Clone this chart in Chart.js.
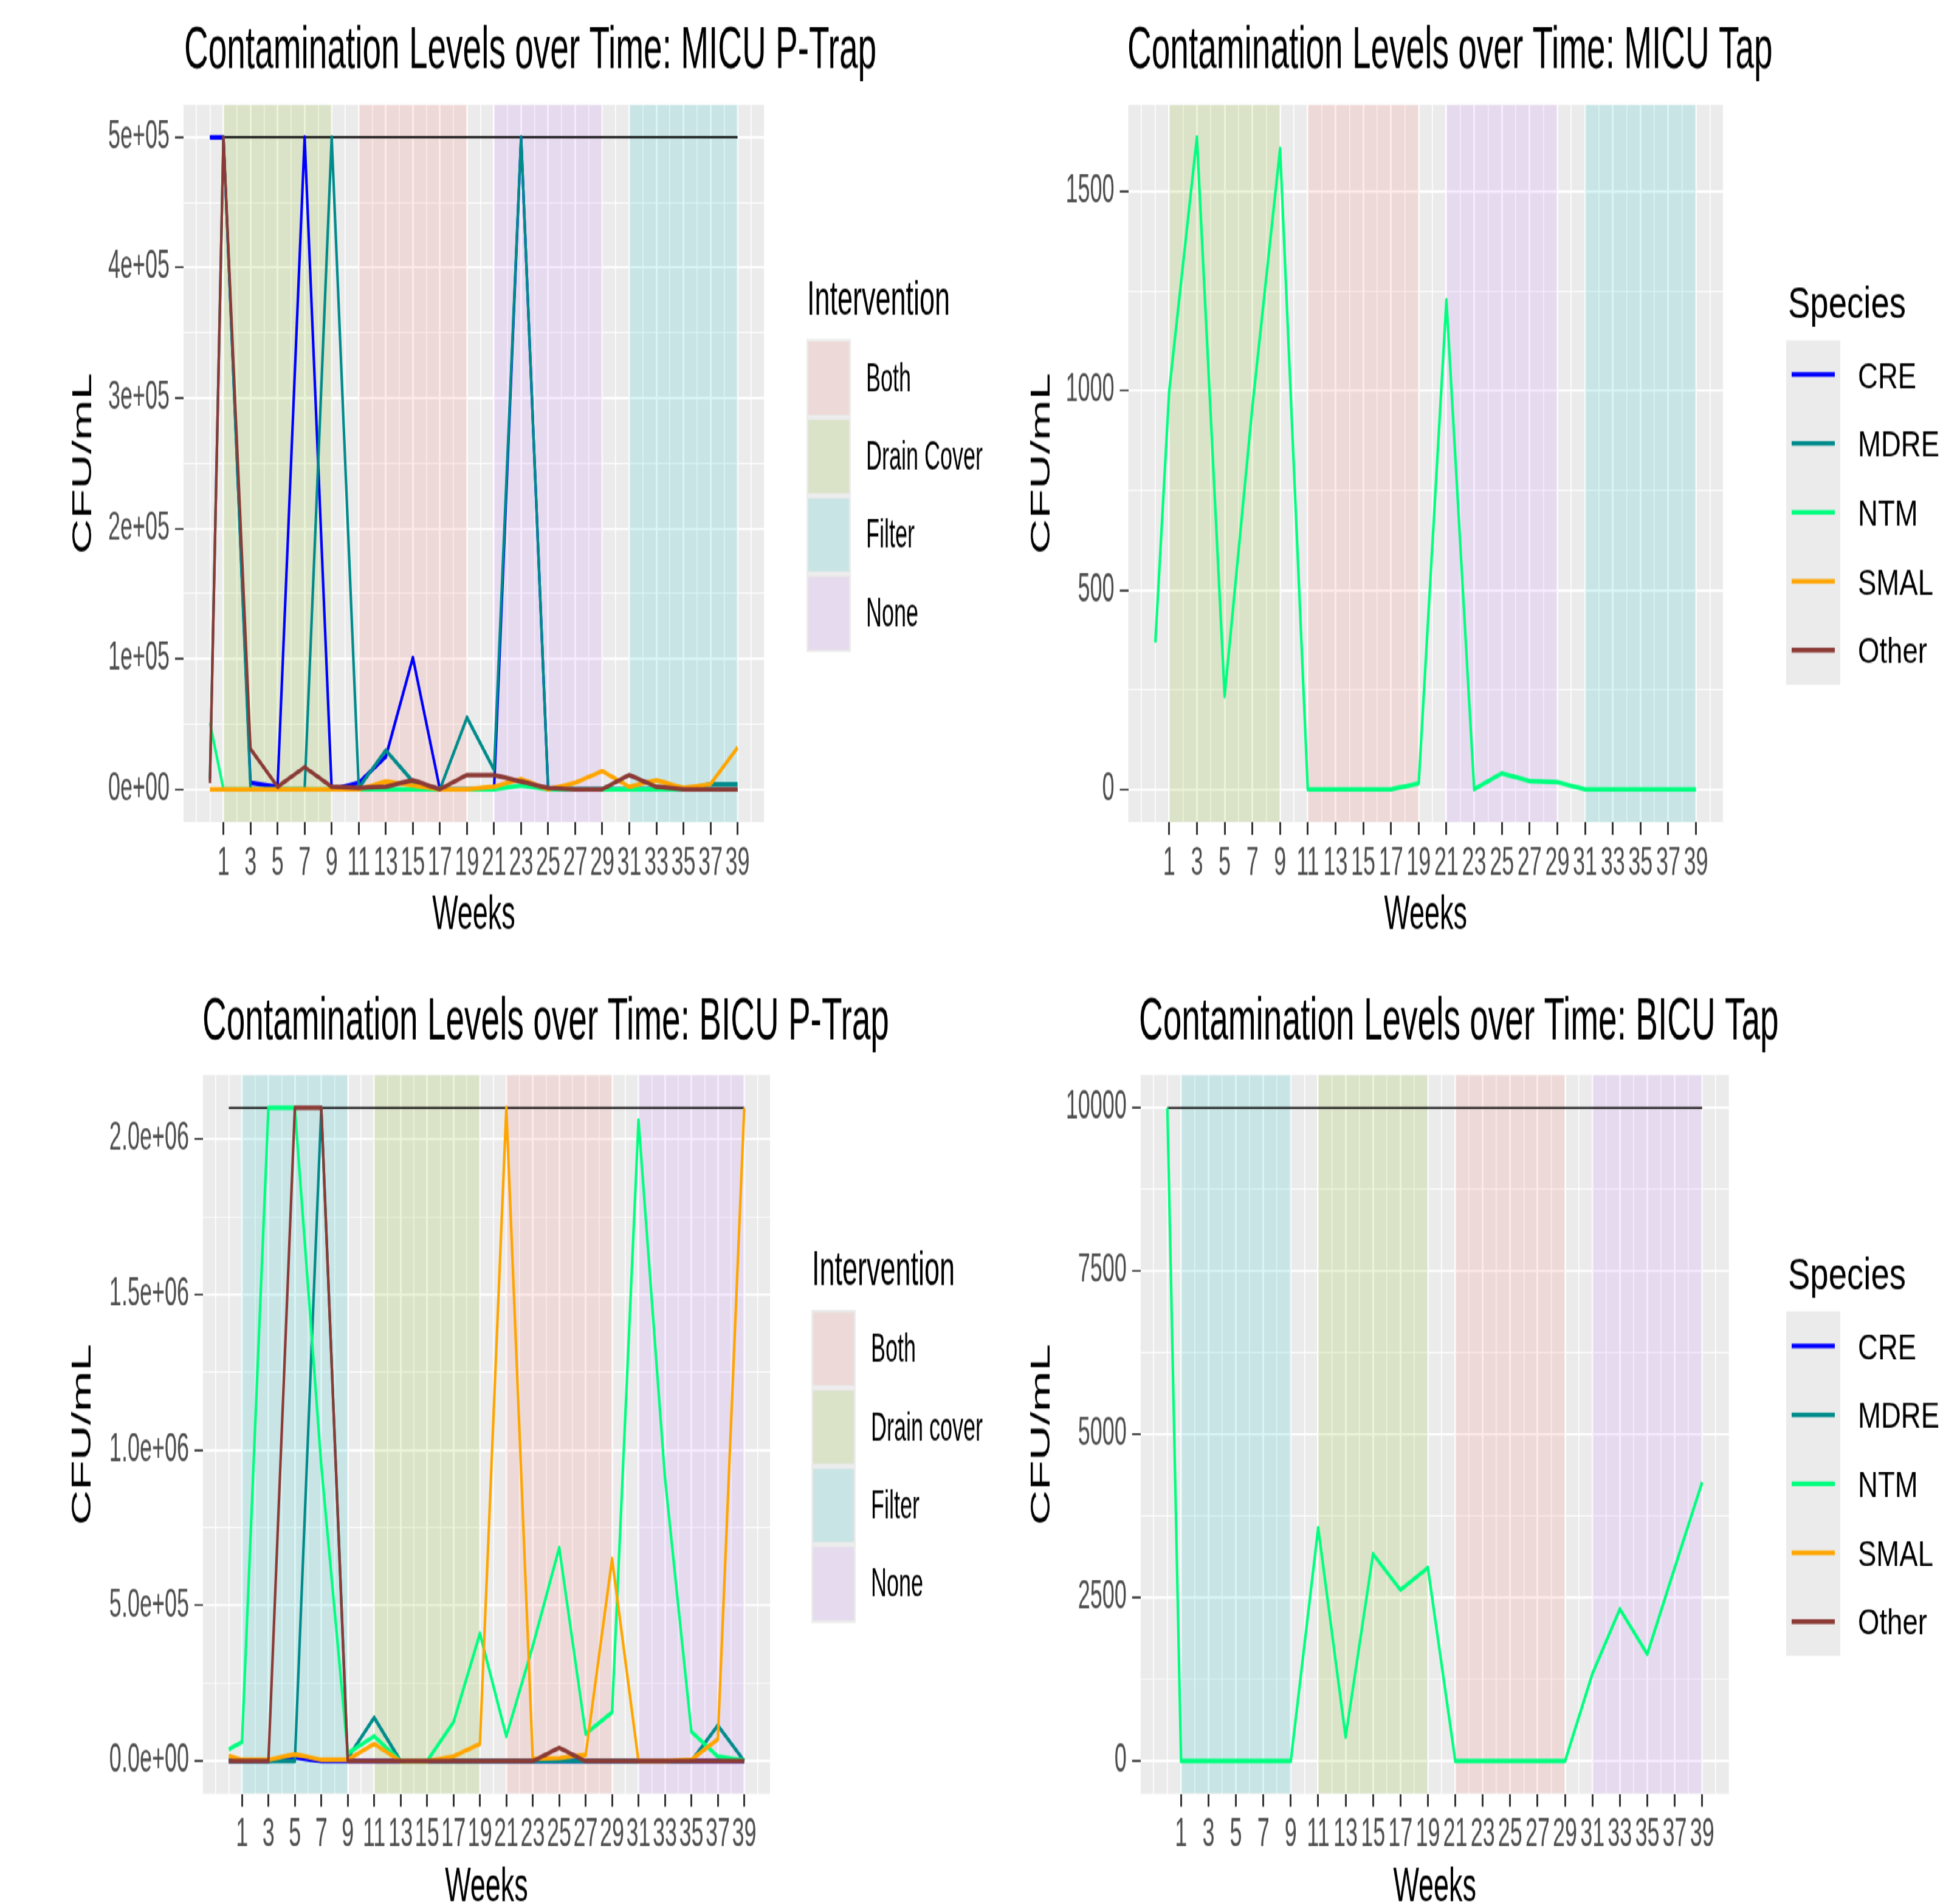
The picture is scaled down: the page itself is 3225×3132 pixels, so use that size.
<!DOCTYPE html>
<html lang="en">
<head>
<meta charset="UTF-8">
<title>Contamination Levels over Time</title>
<script src="https://cdn.jsdelivr.net/npm/chart.js"></script>
<style>
  html, body { margin: 0; padding: 0; background: #ffffff; overflow: hidden; }
  /* the reference is stretched vertically, so draw flat and stretch the whole sheet */
  #wrap { position: absolute; left: 0; top: 0; width: 3225px; height: 1780px;
          transform: scaleY(1.78); transform-origin: 0 0; }
  #wrap canvas { position: absolute; }
</style>
</head>
<body>
<div id="wrap">
  <canvas id="micuTrap" width="1640" height="880" style="left:0px;top:0px"></canvas>
  <canvas id="micuTap" width="1613" height="880" style="left:1612px;top:0px"></canvas>
  <canvas id="bicuTrap" width="1640" height="900" style="left:0px;top:880px"></canvas>
  <canvas id="bicuTap" width="1613" height="900" style="left:1612px;top:880px"></canvas>
</div>

<script>
// ---- data ----
const sampleWeeks = [0, 1, 3, 5, 7, 9, 11, 13, 15, 17, 19, 21, 23, 25, 27, 29, 31, 33, 35, 37, 39];
const weekLabels  = [1, 3, 5, 7, 9, 11, 13, 15, 17, 19, 21, 23, 25, 27, 29, 31, 33, 35, 37, 39];
const speciesNames = ['CRE', 'MDRE', 'NTM', 'SMAL', 'Other'];

// MICU P-Trap
const micuTrapCRE   = [500000, 500000, 5000, 2000, 500000, 0, 5000, 25000, 101000, 0, 0, 0, 500000, 0, 0, 0, 0, 0, 0, 0, 0];
const micuTrapMDRE  = [8000, 500000, 0, 0, 0, 500000, 1000, 30000, 6000, 0, 55000, 15000, 500000, 0, 0, 0, 0, 0, 0, 4000, 4000];
const micuTrapNTM   = [51000, 0, 0, 0, 0, 0, 0, 0, 0, 0, 0, 0, 3000, 0, 0, 0, 0, 0, 0, 0, 0];
const micuTrapSMAL  = [0, 0, 0, 0, 0, 0, 0, 6000, 3000, 0, 0, 2000, 8000, 0, 5000, 14000, 2000, 7000, 1000, 4000, 32000];
const micuTrapOther = [5000, 500000, 31000, 2000, 17000, 2000, 1000, 2000, 7000, 0, 11000, 11000, 6000, 1000, 0, 0, 11000, 2000, 0, 0, 0];

// MICU Tap
const micuTapNTM = [368, 1000, 1637, 234, 960, 1608, 0, 0, 0, 0, 15, 1228, 0, 40, 21, 18, 0, 0, 0, 0, 0];

// BICU P-Trap
const bicuTrapCRE   = [0, 0, 0, 12000, 0, 0, 0, 0, 0, 0, 0, 0, 0, 0, 0, 0, 0, 0, 0, 0, 0];
const bicuTrapMDRE  = [0, 0, 0, 0, 2100000, 10000, 140000, 0, 0, 0, 0, 0, 0, 0, 0, 0, 0, 0, 0, 115000, 0];
const bicuTrapNTM   = [38000, 61000, 2100000, 2100000, 950000, 25000, 80000, 0, 0, 125000, 410000, 80000, 370000, 686000, 88000, 157000, 2060000, 912000, 95000, 15000, 3000];
const bicuTrapSMAL  = [17000, 5000, 5000, 22000, 5000, 5000, 55000, 0, 0, 15000, 55000, 2100000, 8000, 10000, 20000, 650000, 0, 0, 5000, 70000, 2100000];
const bicuTrapOther = [0, 0, 0, 2100000, 2100000, 0, 0, 0, 0, 0, 0, 0, 0, 43000, 0, 0, 0, 0, 0, 0, 0];

// BICU Tap
const bicuTapNTM = [10000, 0, 0, 0, 0, 0, 3570, 370, 3170, 2620, 2960, 0, 0, 0, 0, 0, 1340, 2330, 1640, 2960, 4270];

// detection cap lines
const capWeeks = [0, 39];
const micuTrapCap = [500000, 500000];
const bicuTrapCap = [2100000, 2100000];
const bicuTapCap = [10000, 10000];

// intervention periods
const bandStart = [1, 11, 21, 31];
const bandEnd   = [9, 19, 29, 39];
const micuBands = ['Drain Cover', 'Both', 'None', 'Filter'];
const bicuBands = ['Filter', 'Drain cover', 'Both', 'None'];

// y axis breaks
const micuTrapMajor = [0, 100000, 200000, 300000, 400000, 500000];
const micuTrapTickLabels = ['0e+00', '1e+05', '2e+05', '3e+05', '4e+05', '5e+05'];
const micuTrapMinor = [50000, 150000, 250000, 350000, 450000];
const micuTapMajor = [0, 500, 1000, 1500];
const micuTapTickLabels = ['0', '500', '1000', '1500'];
const micuTapMinor = [250, 750, 1250];
const bicuTrapMajor = [0, 500000, 1000000, 1500000, 2000000];
const bicuTrapTickLabels = ['0.0e+00', '5.0e+05', '1.0e+06', '1.5e+06', '2.0e+06'];
const bicuTrapMinor = [250000, 750000, 1250000, 1750000];
const bicuTapMajor = [0, 2500, 5000, 7500, 10000];
const bicuTapTickLabels = ['0', '2500', '5000', '7500', '10000'];
const bicuTapMinor = [1250, 3750, 6250, 8750];

// ---- styling ----
const FONT = '"Liberation Sans", Arial, Helvetica, sans-serif';
Chart.defaults.font.family = FONT;

const speciesColors = { CRE: '#0000FF', MDRE: '#008B8B', NTM: '#00FF7F', SMAL: '#FFA500', Other: '#8B3A35' };
const bandFill = {
  'Both': 'rgba(248,118,109,0.15)',
  'Drain Cover': 'rgba(124,174,0,0.15)',
  'Drain cover': 'rgba(124,174,0,0.15)',
  'Filter': 'rgba(0,191,196,0.15)',
  'None': 'rgba(199,124,255,0.15)'
};
const X_AXIS_H = 120;

// grid at every week, ggplot style (majors on the labelled weeks)
const gridWeeks = [];
for (let w = -1; w <= 40; w++) gridWeeks.push(w);

function expandRange(values) {
  const hi = Math.max(...values), lo = 0;
  const pad = (hi - lo) * 0.05;
  return [lo - pad, hi + pad];
}

function stretchedText(ctx, text, x, y, sx) {
  ctx.save();
  ctx.translate(x, y);
  ctx.scale(sx, 1);
  ctx.fillText(text, 0, 0);
  ctx.restore();
}

function makePanel(p) {
  const canvas = document.getElementById(p.id);
  const a = p.area;

  const datasets = [];
  if (p.cap) {
    datasets.push({
      label: 'cap',
      data: capWeeks.map((w, i) => ({ x: w, y: p.cap[i] })),
      borderColor: '#000000', borderWidth: 1.8, order: 10
    });
  }
  p.series.forEach(s => {
    datasets.push({
      label: s.name,
      data: sampleWeeks.map((w, i) => ({ x: w, y: s.values[i] })),
      borderColor: speciesColors[s.name],
      borderWidth: 4.2,
      order: 5 - speciesNames.indexOf(s.name)
    });
  });

  const allY = [].concat(...p.series.map(s => s.values), p.cap || []);
  const [yMin, yMax] = expandRange(allY);
  const isMajorX = v => weekLabels.includes(v);
  const isMajorY = v => p.yMajor.includes(v);

  const panelBg = {
    id: 'panelBg',
    beforeDraw(chart) {
      const { ctx, chartArea: ca } = chart;
      ctx.save();
      ctx.fillStyle = '#EBEBEB';
      ctx.fillRect(ca.left, ca.top, ca.right - ca.left, ca.bottom - ca.top);
      ctx.restore();
    }
  };

  const bands = {
    id: 'bands',
    beforeDatasetsDraw(chart) {
      const { ctx, chartArea: ca, scales: { x } } = chart;
      ctx.save();
      ctx.beginPath();
      ctx.rect(ca.left, ca.top, ca.right - ca.left, ca.bottom - ca.top);
      ctx.clip();
      p.bands.forEach((lab, i) => {
        const x1 = x.getPixelForValue(bandStart[i]);
        const x2 = x.getPixelForValue(bandEnd[i]);
        ctx.fillStyle = bandFill[lab];
        ctx.fillRect(x1, ca.top, x2 - x1, ca.bottom - ca.top);
      });
      ctx.restore();
    }
  };

  const panelText = {
    id: 'panelText',
    afterDraw(chart) {
      const ctx = chart.ctx;
      const lg = p.legend;
      ctx.save();
      ctx.fillStyle = '#000000';
      ctx.textAlign = 'left';
      ctx.textBaseline = 'alphabetic';
      ctx.font = '55px ' + FONT;
      ctx.fillText(p.title, p.titleX, p.titleBase);

      if (lg.kind === 'fill') {
        ctx.font = '45px ' + FONT;
        ctx.fillText('Intervention', lg.titleX, lg.titleBase);
        ctx.font = '36px ' + FONT;
        ctx.textBaseline = 'middle';
        lg.labels.forEach((lab, i) => {
          const y0 = lg.keyTop + i * lg.pitch;
          ctx.fillStyle = '#EBEBEB';
          ctx.fillRect(lg.bgX, y0, lg.bgW, lg.pitch);
          ctx.fillStyle = bandFill[lab];
          ctx.fillRect(lg.bgX + 3, y0 + 2.5, lg.bgW - 6, lg.pitch - 5);
          ctx.fillStyle = '#000000';
          ctx.fillText(lab, lg.labelX, y0 + lg.pitch / 2 + 2);
        });
      } else {
        ctx.font = '41px ' + FONT;
        stretchedText(ctx, 'Species', lg.titleX, lg.titleBase, 1.33);
        ctx.fillStyle = '#EBEBEB';
        ctx.fillRect(lg.bgX, lg.keyTop, lg.bgW, lg.pitch * speciesNames.length);
        ctx.font = '33px ' + FONT;
        ctx.textBaseline = 'middle';
        speciesNames.forEach((name, i) => {
          const yc = lg.keyTop + (i + 0.5) * lg.pitch;
          ctx.strokeStyle = speciesColors[name];
          ctx.lineWidth = 4.3;
          ctx.beginPath();
          ctx.moveTo(lg.lineX1, yc);
          ctx.lineTo(lg.lineX2, yc);
          ctx.stroke();
          ctx.fillStyle = '#000000';
          stretchedText(ctx, name, lg.labelX, yc + 3, 1.38);
        });
      }
      ctx.restore();
    }
  };

  return new Chart(canvas, {
    type: 'line',
    data: { datasets },
    plugins: [panelBg, bands, panelText],
    options: {
      responsive: false,
      animation: false,
      devicePixelRatio: 1,
      events: [],
      layout: {
        padding: { left: 0, top: a.T, right: canvas.width - a.R, bottom: canvas.height - a.B - X_AXIS_H }
      },
      elements: {
        point: { radius: 0 },
        line: { tension: 0, borderJoinStyle: 'round' }
      },
      plugins: {
        legend: { display: false },
        tooltip: { enabled: false },
        title: { display: false }
      },
      scales: {
        x: {
          type: 'linear',
          bounds: 'data',
          min: -1.95,
          max: 40.95,
          afterBuildTicks: sc => { sc.ticks = gridWeeks.map(v => ({ value: v })); },
          afterFit: sc => { sc.height = X_AXIS_H; },
          ticks: {
            autoSkip: false, maxRotation: 0, minRotation: 0, padding: 5,
            color: '#4D4D4D', font: { size: 36 },
            callback: v => (isMajorX(v) ? String(v) : '')
          },
          grid: {
            color: '#FFFFFF',
            lineWidth: c => (c.tick && isMajorX(c.tick.value) ? 3 : 1.6),
            tickColor: c => (c.tick && isMajorX(c.tick.value) ? '#333333' : 'rgba(0,0,0,0)'),
            tickLength: 12,
            tickWidth: 3
          },
          border: { display: false },
          title: { display: true, text: 'Weeks', color: '#000000', font: { size: 45 }, padding: { top: 0, bottom: 6 } }
        },
        y: {
          type: 'linear',
          bounds: 'data',
          min: yMin,
          max: yMax,
          afterBuildTicks: sc => { sc.ticks = p.yMajor.concat(p.yMinor).map(v => ({ value: v })); },
          afterFit: sc => { sc.width = a.L; },
          ticks: {
            autoSkip: false, padding: 9,
            color: '#4D4D4D', font: { size: 36 },
            callback: v => { const i = p.yMajor.indexOf(v); return i >= 0 ? p.yTickLabels[i] : ''; }
          },
          grid: {
            color: '#FFFFFF',
            lineWidth: c => (c.tick && isMajorY(c.tick.value) ? 2.2 : 1.1),
            tickColor: c => (c.tick && isMajorY(c.tick.value) ? '#333333' : 'rgba(0,0,0,0)'),
            tickLength: 14,
            tickWidth: 1.8
          },
          border: { display: false },
          title: { display: true, text: 'CFU/mL', color: '#000000', font: { size: 45 }, padding: { top: p.yTitlePad, bottom: 0 } }
        }
      }
    }
  });
}

makePanel({
  id: 'micuTrap',
  title: 'Contamination Levels over Time: MICU P-Trap', titleX: 303, titleBase: 63,
  area: { L: 302, R: 1257, T: 96.8, B: 760 },
  series: [
    { name: 'CRE', values: micuTrapCRE }, { name: 'MDRE', values: micuTrapMDRE },
    { name: 'NTM', values: micuTrapNTM }, { name: 'SMAL', values: micuTrapSMAL },
    { name: 'Other', values: micuTrapOther }
  ],
  cap: micuTrapCap, bands: micuBands,
  yMajor: micuTrapMajor, yMinor: micuTrapMinor, yTickLabels: micuTrapTickLabels, yTitlePad: 111,
  legend: { kind: 'fill', labels: ['Both', 'Drain Cover', 'Filter', 'None'],
            titleX: 1328, titleBase: 291, bgX: 1327, bgW: 73, keyTop: 313.5, pitch: 72.4, labelX: 1425 }
});

makePanel({
  id: 'micuTap',
  title: 'Contamination Levels over Time: MICU Tap', titleX: 243, titleBase: 63,
  area: { L: 244.5, R: 1223, T: 96.8, B: 760 },
  series: [{ name: 'NTM', values: micuTapNTM }],
  cap: null, bands: micuBands,
  yMajor: micuTapMajor, yMinor: micuTapMinor, yTickLabels: micuTapTickLabels, yTitlePad: 76,
  legend: { kind: 'line', titleX: 1330, titleBase: 293.6, bgX: 1327, bgW: 89, keyTop: 314.6, pitch: 63.7,
            lineX1: 1336, lineX2: 1407, labelX: 1445 }
});

makePanel({
  id: 'bicuTrap',
  title: 'Contamination Levels over Time: BICU P-Trap', titleX: 333, titleBase: 81,
  area: { L: 334, R: 1267, T: 114.2, B: 778.6 },
  series: [
    { name: 'CRE', values: bicuTrapCRE }, { name: 'MDRE', values: bicuTrapMDRE },
    { name: 'NTM', values: bicuTrapNTM }, { name: 'SMAL', values: bicuTrapSMAL },
    { name: 'Other', values: bicuTrapOther }
  ],
  cap: bicuTrapCap, bands: bicuBands,
  yMajor: bicuTrapMajor, yMinor: bicuTrapMinor, yTickLabels: bicuTrapTickLabels, yTitlePad: 110,
  legend: { kind: 'fill', labels: ['Both', 'Drain cover', 'Filter', 'None'],
            titleX: 1336, titleBase: 308.4, bgX: 1335, bgW: 73, keyTop: 331, pitch: 72.4, labelX: 1433 }
});

makePanel({
  id: 'bicuTap',
  title: 'Contamination Levels over Time: BICU Tap', titleX: 262, titleBase: 81,
  area: { L: 264.8, R: 1232.7, T: 114.2, B: 778.6 },
  series: [{ name: 'NTM', values: bicuTapNTM }],
  cap: bicuTapCap, bands: bicuBands,
  yMajor: bicuTapMajor, yMinor: bicuTapMinor, yTickLabels: bicuTapTickLabels, yTitlePad: 76,
  legend: { kind: 'line', titleX: 1330, titleBase: 311.6, bgX: 1327, bgW: 89, keyTop: 332.6, pitch: 63.7,
            lineX1: 1336, lineX2: 1407, labelX: 1445 }
});
</script>
</body>
</html>
